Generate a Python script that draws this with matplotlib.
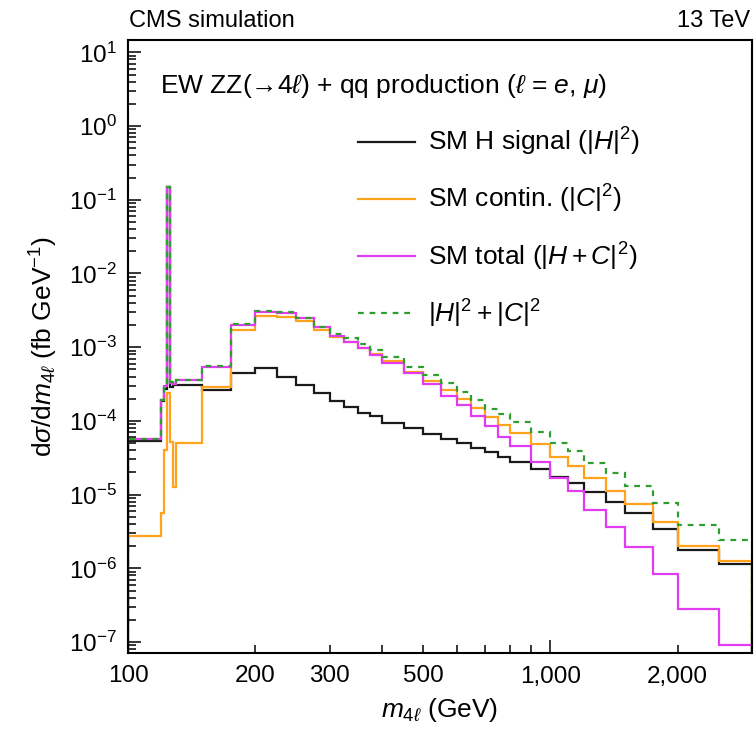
import matplotlib
matplotlib.use("Agg")
import matplotlib.pyplot as plt
from matplotlib.ticker import FixedLocator, NullFormatter, FixedFormatter, LogFormatterMathtext

# m4l bin edges (GeV)
edges = [100, 120, 122, 124, 126, 128, 130, 150, 175, 200, 225, 250, 275, 300,
         325, 350, 375, 400, 450, 500, 550, 600, 650, 700, 750, 800, 900, 1000,
         1100, 1200, 1350, 1500, 1750, 2000, 2500, 3000]

# dsigma/dm4l per bin (fb/GeV)
sm_signal = [5.4e-5, 1.85e-4, 2.7e-4, 0.15, 2.9e-4, 3.05e-4, 3.06e-4, 2.62e-4,
             4.4e-4, 5.15e-4, 3.98e-4, 3.06e-4, 2.36e-4, 1.88e-4, 1.55e-4, 1.29e-4,
             1.16e-4, 9.4e-5, 8.05e-5, 6.6e-5, 5.67e-5, 4.95e-5, 4.24e-5, 3.74e-5,
             3.26e-5, 2.74e-5, 2.22e-5, 1.75e-5, 1.42e-5, 1.07e-5, 8.0e-6, 5.56e-6,
             3.4e-6, 1.77e-6, 1.16e-6]
sm_contin = [2.73e-6, 5.67e-6, 4.0e-5, 2.36e-4, 5.2e-5, 1.28e-5, 4.95e-5, 2.9e-4,
             1.7e-3, 2.64e-3, 2.54e-3, 2.29e-3, 1.7e-3, 1.38e-3, 1.16e-3, 9.6e-4,
             8.2e-4, 6.5e-4, 4.55e-4, 3.47e-4, 2.62e-4, 1.98e-4, 1.51e-4, 1.14e-4,
             8.8e-5, 6.9e-5, 4.8e-5, 3.26e-5, 2.44e-5, 1.69e-5, 1.13e-5, 7.4e-6,
             4.24e-6, 2.0e-6, 1.25e-6]
sm_total = [5.6e-5, 1.9e-4, 3.0e-4, 0.15, 3.3e-4, 3.2e-4, 3.58e-4, 5.4e-4,
            2.0e-3, 3.02e-3, 2.93e-3, 2.46e-3, 1.86e-3, 1.41e-3, 1.19e-3, 9.6e-4,
            7.8e-4, 6.1e-4, 4.4e-4, 3.13e-4, 2.19e-4, 1.64e-4, 1.16e-4, 8.5e-5,
            6.1e-5, 4.55e-5, 2.79e-5, 1.66e-5, 1.13e-5, 6.2e-6, 3.66e-6, 1.96e-6,
            8.5e-7, 2.77e-7, 9.1e-8]
sum_sq = [5.7e-5, 1.9e-4, 3.1e-4, 0.15, 3.4e-4, 3.2e-4, 3.56e-4, 5.5e-4,
          2.05e-3, 3.1e-3, 2.98e-3, 2.5e-3, 1.89e-3, 1.51e-3, 1.32e-3, 1.1e-3,
          9.3e-4, 7.4e-4, 5.4e-4, 4.19e-4, 3.23e-4, 2.48e-4, 1.91e-4, 1.45e-4,
          1.24e-4, 9.7e-5, 7.1e-5, 5.05e-5, 3.89e-5, 2.7e-5, 1.98e-5, 1.3e-5,
          7.6e-6, 3.86e-6, 2.42e-6]

x_major = [100, 1000]
x_minor = [200, 300, 400, 500, 600, 700, 800, 900, 2000, 3000]
x_labels = {100: "100", 200: "200", 300: "300", 500: "500", 1000: "1,000", 2000: "2,000"}
y_decades = list(range(-7, 2))

plt.rcParams["font.family"] = ["Liberation Sans", "DejaVu Sans"]
plt.rcParams["mathtext.fontset"] = "custom"
plt.rcParams["mathtext.rm"] = "Liberation Sans"
plt.rcParams["mathtext.it"] = "Liberation Sans:italic"
plt.rcParams["mathtext.bf"] = "Liberation Sans:bold"
plt.rcParams["mathtext.sf"] = "Liberation Sans"

fig = plt.figure(figsize=(7.54, 7.37), dpi=100)
ax = fig.add_axes([128 / 754, 1 - 653 / 737, 624 / 754, 613 / 737])

lw = 1.6
ax.stairs(sm_signal, edges, color="#1a1a1a", lw=lw, label=r"SM H signal ($|H|^2$)")
ax.stairs(sm_contin, edges, color="#FFA21C", lw=lw, label=r"SM contin. ($|C|^2$)")
ax.stairs(sm_total, edges, color="#E23CF2", lw=lw, label=r"SM total ($|H + C|^2$)")
ax.stairs(sum_sq, edges, color="#2E9E2E", lw=lw, linestyle=(0, (2.6, 2.6)),
          label=r"$|H|^2 + |C|^2$")

ax.set_xscale("log")
ax.set_yscale("log")
ax.set_xlim(100, 3000)
ax.set_ylim(7.1e-8, 14.7)

# x ticks
ax.xaxis.set_major_locator(FixedLocator(x_major))
ax.xaxis.set_minor_locator(FixedLocator(x_minor))
ax.xaxis.set_major_formatter(FixedFormatter([x_labels[v] for v in x_major]))
ax.xaxis.set_minor_formatter(FixedFormatter([x_labels.get(v, "") for v in x_minor]))

# y ticks: decades plus 2..9 subdivisions, restricted to the visible range
y_major = [10.0 ** d for d in y_decades]
y_minor = [k * 10.0 ** d for d in [-8] + y_decades for k in range(2, 10)
           if 7.1e-8 <= k * 10.0 ** d <= 14.7]
ax.yaxis.set_major_locator(FixedLocator(y_major))
ax.yaxis.set_minor_locator(FixedLocator(y_minor))
ax.yaxis.set_major_formatter(LogFormatterMathtext())
ax.yaxis.set_minor_formatter(NullFormatter())

ax.tick_params(which="both", direction="in", top=False, right=False, width=1.1,
               labelsize=17.5, colors="black")
ax.tick_params(which="major", length=9.5)
ax.tick_params(which="minor", length=5.8)
ax.tick_params(axis="x", which="both", pad=9)
ax.tick_params(axis="y", which="both", pad=8)
for s in ax.spines.values():
    s.set_linewidth(1.5)

ax.set_xlabel(r"$m_{4\ell}$ (GeV)", fontsize=19, labelpad=6)
ax.set_ylabel(r"d$\sigma$/d$m_{4\ell}$ (fb GeV$^{-1}$)", fontsize=19, labelpad=6)

fig.text(129 / 754, 1 - 27 / 737, "CMS simulation", fontsize=17, va="baseline")
fig.text(750 / 754, 1 - 27 / 737, "13 TeV", fontsize=17, va="baseline", ha="right")

ax.text((160 - 128) / 624, (653 - 86) / 613,
        "EW ZZ(\u2192" + r"4$\ell$) + qq production ($\ell$ = $e$, $\mu$)",
        transform=ax.transAxes, fontsize=19, va="center", ha="left")

ax.legend(loc="upper left", bbox_to_anchor=((358 - 128) / 624, (653 - 126) / 613),
          frameon=False, fontsize=19, handlelength=2.16, handletextpad=0.5,
          labelspacing=0.95, borderpad=0, borderaxespad=0)

fig.savefig("out.png", dpi=100)
